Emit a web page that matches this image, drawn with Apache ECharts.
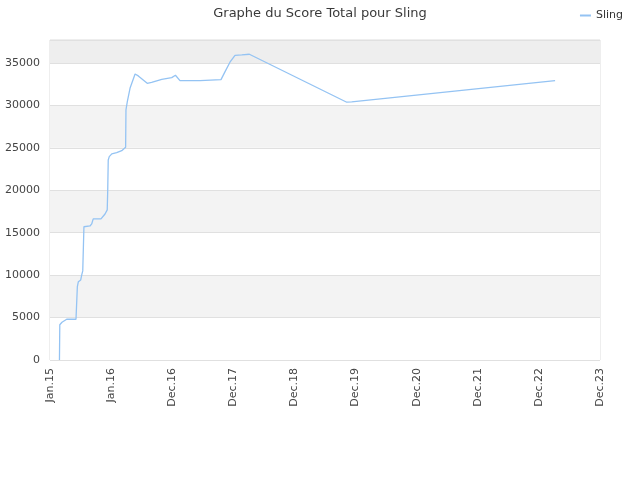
<!DOCTYPE html>
<html>
<head>
    <meta charset="utf-8">
    <title>Graphe du Score Total pour Sling</title>
    <script src="https://cdn.jsdelivr.net/npm/echarts@6/dist/echarts.min.js"></script>
    <style>
        html, body { margin: 0; padding: 0; background: #ffffff; }
        #chart { width: 640px; height: 480px; }
    </style>
</head>
<body>
<div id="chart"></div>
<script>
    // axe des x : jours depuis le 1er janvier 2015
    var origin = '2015-01-01';
    var xTickLabels = ['Jan.15', 'Jan.16', 'Dec.16', 'Dec.17', 'Dec.18', 'Dec.19', 'Dec.20', 'Dec.21', 'Dec.22', 'Dec.23'];
    var xTickStep = 362;

    var dates = [
        '2015-02-26', '2015-02-28', '2015-03-13', '2015-04-10', '2015-06-04', '2015-06-06',
        '2015-06-12', '2015-06-18', '2015-07-02', '2015-07-08', '2015-07-14', '2015-07-21',
        '2015-08-26', '2015-09-05', '2015-09-14', '2015-10-30', '2015-11-23', '2015-12-06',
        '2015-12-09', '2015-12-12', '2015-12-18', '2016-01-02', '2016-01-31', '2016-03-01',
        '2016-03-24', '2016-03-26', '2016-04-03', '2016-04-19', '2016-05-19', '2016-06-07',
        '2016-07-30', '2016-08-25', '2016-10-24', '2016-12-22', '2017-01-13', '2017-02-09',
        '2017-06-08', '2017-06-18', '2017-10-10', '2017-11-03', '2017-12-02', '2018-01-01',
        '2018-02-10', '2018-03-27', '2019-10-25', '2019-11-23', '2023-03-12'
    ];
    var scores = [
        0, 4150, 4450, 4800, 4800, 4850,
        8640, 9225, 9430, 10020, 10500, 15700,
        15790, 16030, 16620, 16620, 17200, 17680,
        20030, 23570, 23960, 24280, 24430, 24660,
        25060, 29460, 30440, 32010, 33700, 33470,
        32600, 32720, 33070, 33270, 33550, 32910,
        32910, 33030, 33030, 33970, 35080, 35900,
        35940, 36020, 30370, 30400, 32910
    ];
    var yTicks = [0, 5000, 10000, 15000, 20000, 25000, 30000, 35000];
    var yMax = 37700;

    function daysFrom(d) {
        return Math.round((Date.parse(d) - Date.parse(origin)) / 86400000);
    }

    var points = dates.map(function (d, i) {
        return [daysFrom(d), scores[i]];
    });

    var chart = echarts.init(document.getElementById('chart'));
    var option = {
        animation: false,
        textStyle: { fontFamily: 'DejaVu Sans' },
        title: {
            text: 'Graphe du Score Total pour Sling',
            left: 'center',
            top: 2,
            textStyle: { fontSize: 13, fontWeight: 'normal', color: '#3a3a3a' }
        },
        legend: {
            right: 12,
            top: 5,
            icon: 'rect',
            itemWidth: 11,
            itemHeight: 2,
            itemGap: 6,
            textStyle: { fontSize: 11, color: '#333333' },
            data: ['Sling']
        },
        grid: {
            left: 50,
            right: 40,
            top: 40,
            bottom: 120,
            show: true,
            borderColor: '#dddddd',
            borderWidth: 1,
            backgroundColor: 'transparent'
        },
        xAxis: {
            type: 'value',
            min: 0,
            max: xTickStep * (xTickLabels.length - 1),
            interval: xTickStep,
            axisLine: { show: false },
            axisTick: { show: false },
            splitLine: { show: false },
            axisLabel: {
                rotate: 90,
                fontSize: 11,
                color: '#444444',
                margin: 8,
                formatter: function (v) {
                    return xTickLabels[Math.round(v / xTickStep)] || '';
                }
            }
        },
        yAxis: {
            type: 'value',
            min: 0,
            max: yMax,
            interval: 5000,
            axisLine: { show: false },
            axisTick: { show: false },
            axisLabel: {
                fontSize: 11,
                color: '#444444',
                margin: 10,
                showMaxLabel: false,
                formatter: function (v) {
                    return yTicks.indexOf(v) >= 0 ? String(v) : '';
                }
            },
            splitLine: { lineStyle: { color: '#e0e0e0' } },
            splitArea: {
                show: true,
                areaStyle: {
                    color: ['#ffffff', '#f3f3f3', '#ffffff', '#f3f3f3', '#ffffff', '#f3f3f3', '#ffffff', '#eeeeee']
                }
            }
        },
        series: [
            {
                name: 'Sling',
                type: 'line',
                data: points,
                showSymbol: false,
                symbol: 'none',
                color: '#94c3f3',
                lineStyle: { width: 1.3, color: '#94c3f3' }
            }
        ]
    };
    chart.setOption(option);
</script>
</body>
</html>
